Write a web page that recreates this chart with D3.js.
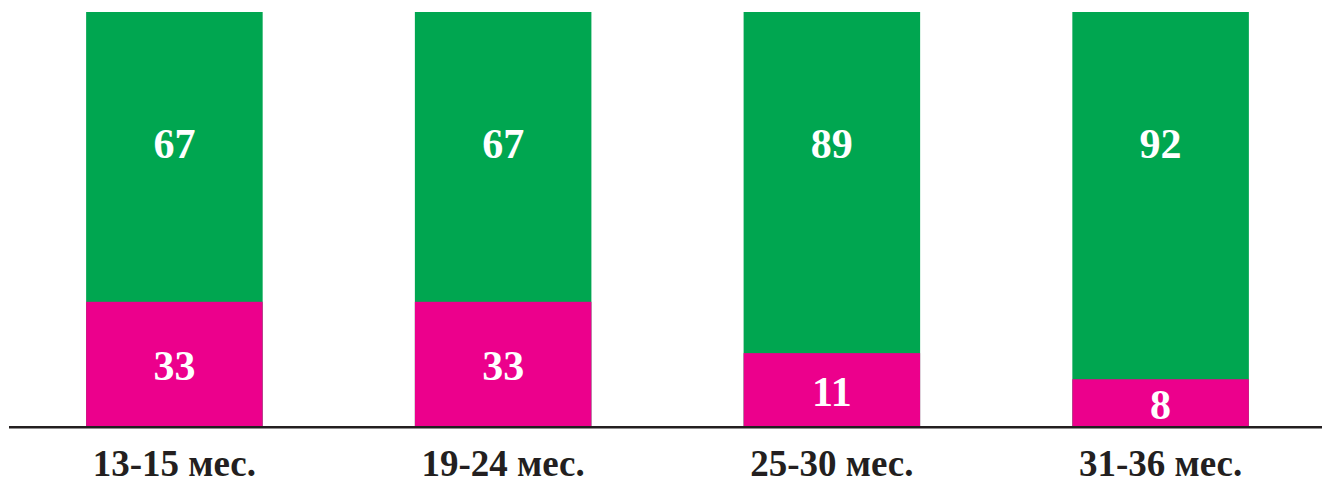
<!DOCTYPE html>
<html>
<head>
<meta charset="utf-8">
<script src="https://cdn.jsdelivr.net/npm/d3@7"></script>
<style>
  html, body { margin: 0; padding: 0; background: #fff; }
  svg { display: block; }
  .val { font-family: "Liberation Serif", "Times New Roman", serif; font-weight: bold; fill: #fff; }
  .cat { font-family: "Liberation Serif", "Times New Roman", serif; font-weight: bold; fill: #231f20; }
</style>
</head>
<body>
<svg class="grafico"></svg>
<script>
// dados
const categorias = ["13-15 мес.", "19-24 мес.", "25-30 мес.", "31-36 мес."];
const valores_rosa  = [33, 33, 11, 8];
const valores_verde = [67, 67, 89, 92];
// parte rosa como aparece desenhada na figura (% da barra)
const rosa_desenhado = [30, 30, 17.6, 11.3];

const w = 1322, h = 479;
const COR_VERDE = "#00a650", COR_ROSA = "#ec008c";

const $svg = d3.select(".grafico").attr("width", w).attr("height", h);

const x = d3.scaleBand()
    .domain(categorias)
    .range([0, 1335])
    .paddingInner(0.463)
    .paddingOuter(0.262);

const y = d3.scaleLinear()
    .domain([0, 100])
    .range([426, 12]);

const dados = categorias.map((c, i) => ({
    cat: c,
    rosa: valores_rosa[i],
    verde: valores_verde[i],
    corte: rosa_desenhado[i]
}));

// barras verdes (total)
$svg.selectAll("rect.verde")
    .data(dados)
    .enter()
    .append("rect")
    .attr("class", "verde")
    .attr("x", d => x(d.cat))
    .attr("width", x.bandwidth())
    .attr("y", y(100))
    .attr("height", y(d => 0) - y(100))
    .attr("height", y(0) - y(100))
    .attr("fill", COR_VERDE);

// parte rosa
$svg.selectAll("rect.rosa")
    .data(dados)
    .enter()
    .append("rect")
    .attr("class", "rosa")
    .attr("x", d => x(d.cat))
    .attr("width", x.bandwidth())
    .attr("y", d => y(d.corte))
    .attr("height", d => y(0) - y(d.corte))
    .attr("fill", COR_ROSA);

// rótulos verdes (mesma altura em todas)
$svg.selectAll("text.v-verde")
    .data(dados)
    .enter()
    .append("text")
    .attr("class", "val v-verde")
    .attr("x", d => x(d.cat) + x.bandwidth() / 2)
    .attr("y", y(68.2))
    .attr("dy", "0.34em")
    .attr("text-anchor", "middle")
    .style("font-size", "42px")
    .text(d => d.verde);

// rótulos rosa (centro do segmento)
$svg.selectAll("text.v-rosa")
    .data(dados)
    .enter()
    .append("text")
    .attr("class", "val v-rosa")
    .attr("x", d => x(d.cat) + x.bandwidth() / 2)
    .attr("y", d => (y(0) + y(d.corte)) / 2)
    .attr("dy", "0.39em")
    .attr("text-anchor", "middle")
    .style("font-size", "42px")
    .text(d => d.rosa);

// linha de base
$svg.append("line")
    .attr("x1", 9)
    .attr("x2", w)
    .attr("y1", y(0) + 1.3)
    .attr("y2", y(0) + 1.3)
    .attr("stroke", "#231f20")
    .attr("stroke-width", 2.6);

// categorias
$svg.selectAll("text.cat")
    .data(dados)
    .enter()
    .append("text")
    .attr("class", "cat")
    .attr("x", d => x(d.cat) + x.bandwidth() / 2)
    .attr("y", 475.5)
    .attr("text-anchor", "middle")
    .style("font-size", "37px")
    .text(d => d.cat);
</script>
</body>
</html>
